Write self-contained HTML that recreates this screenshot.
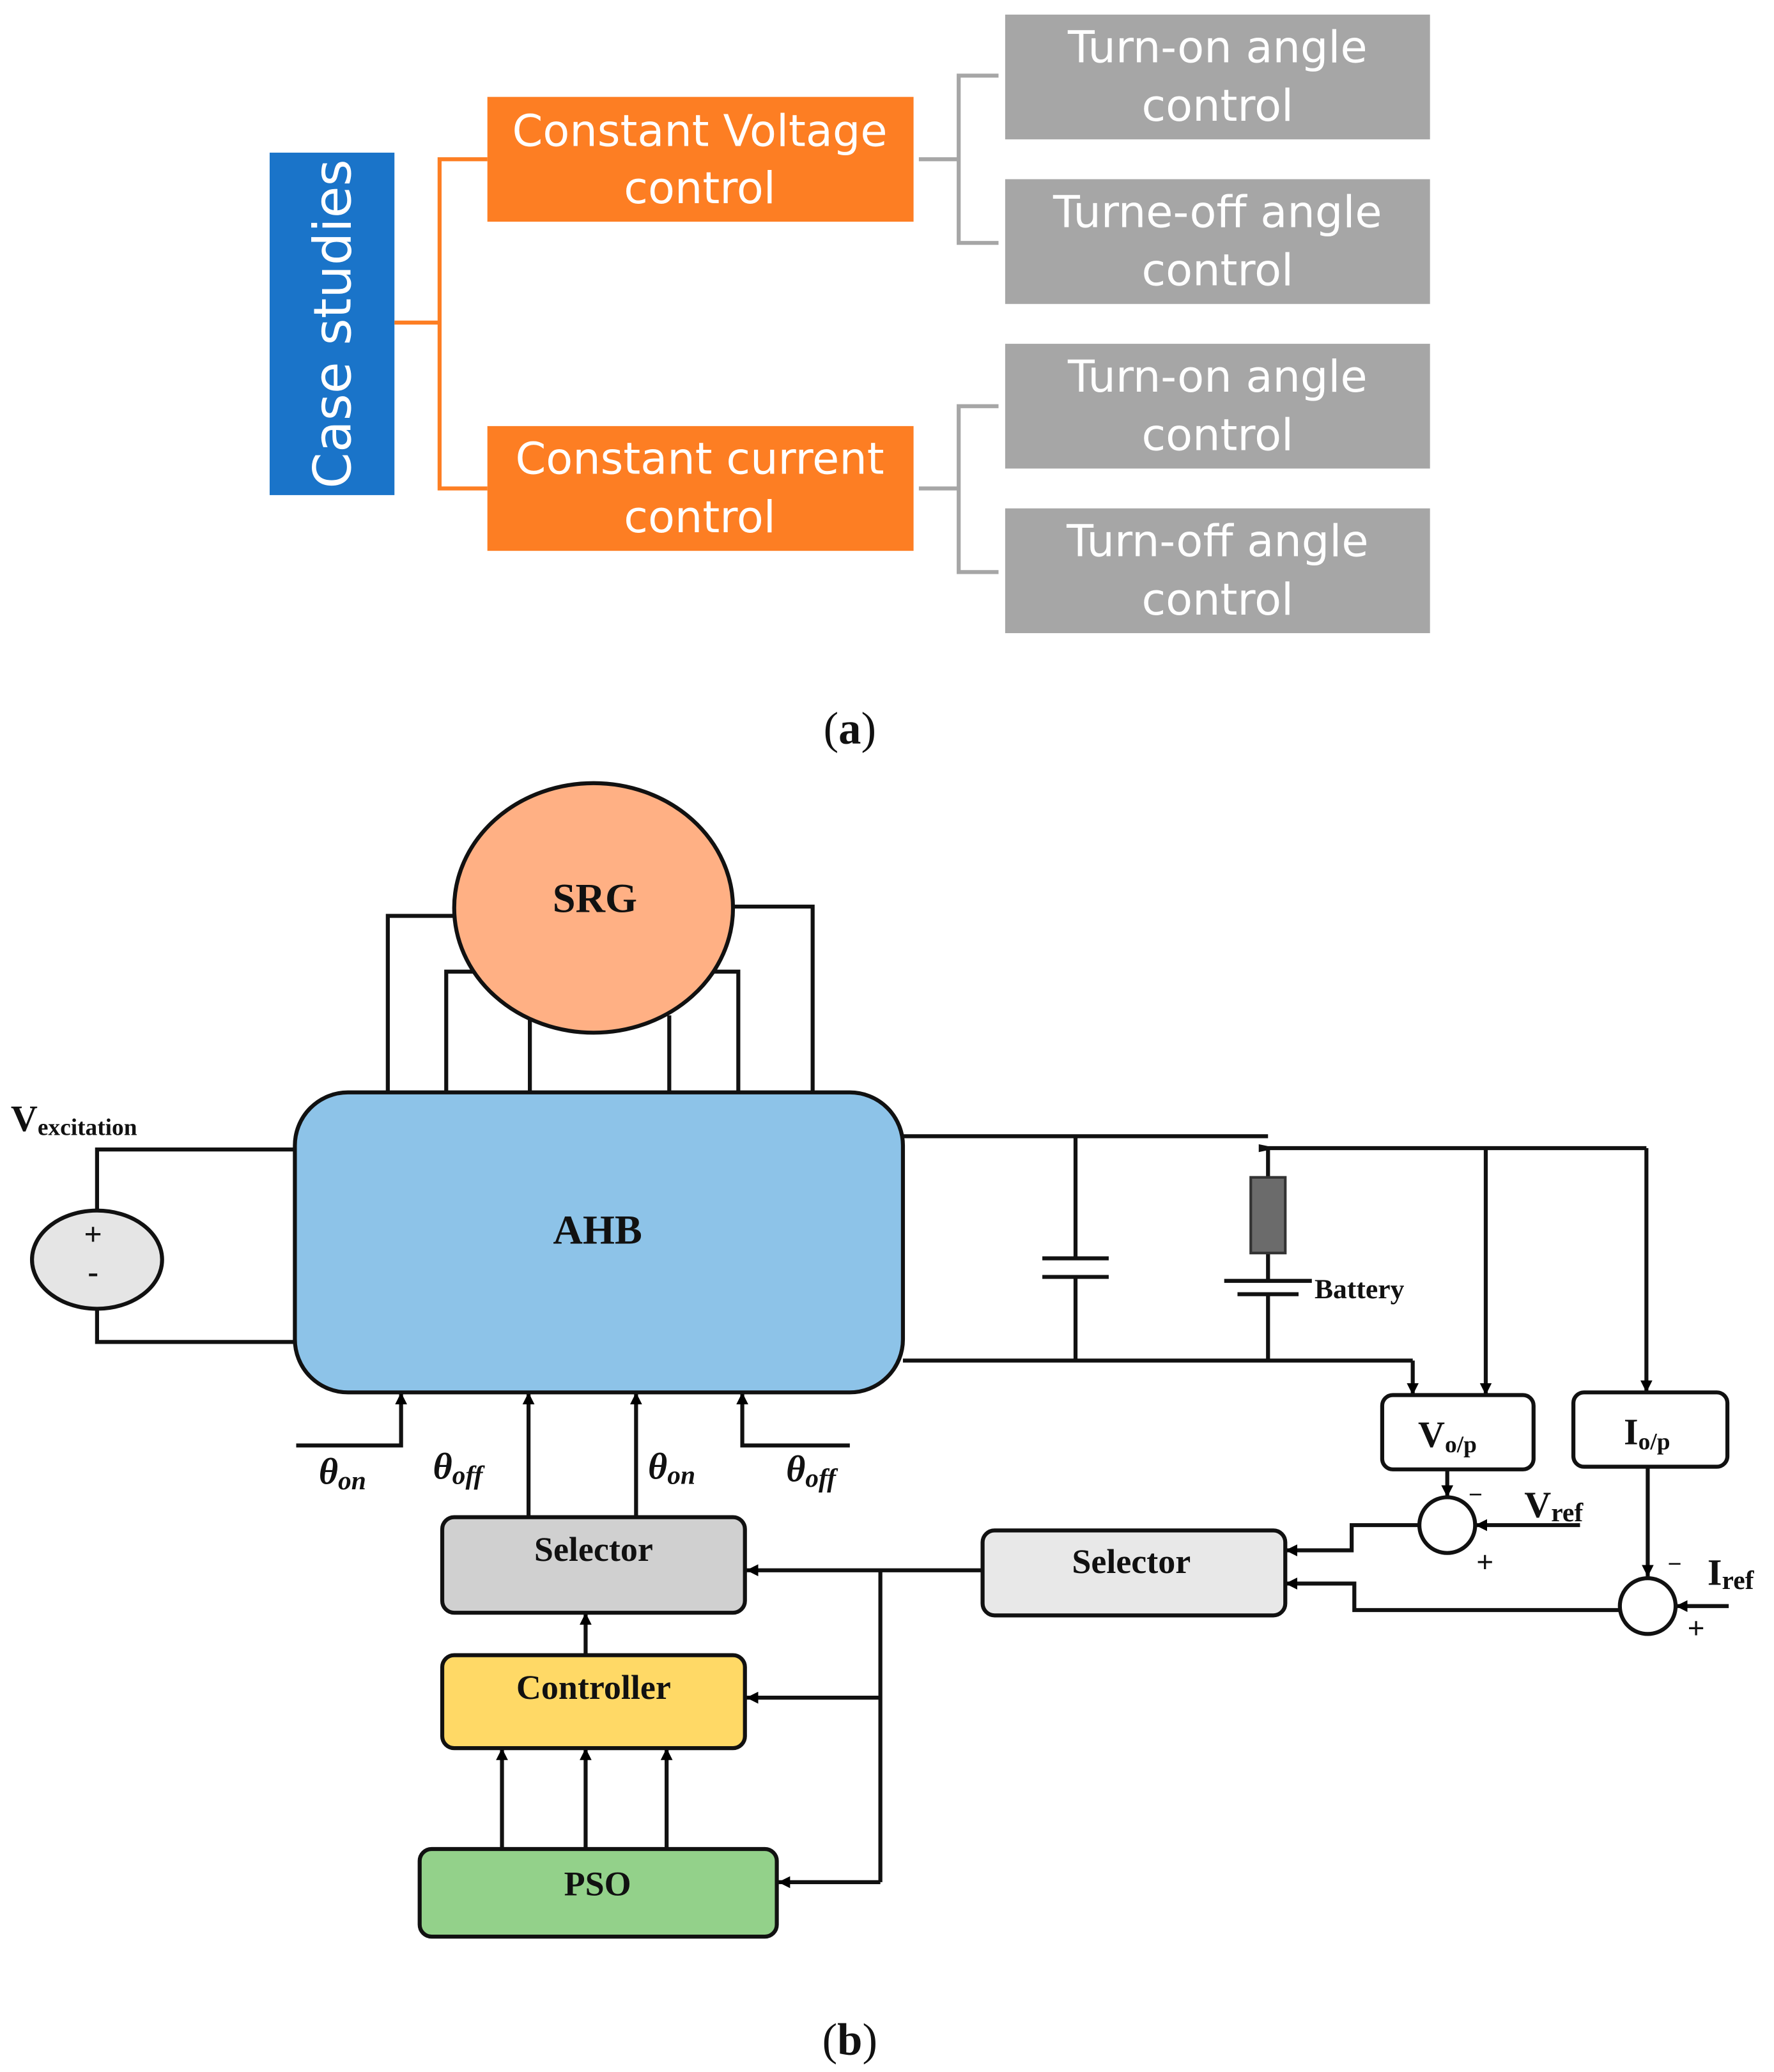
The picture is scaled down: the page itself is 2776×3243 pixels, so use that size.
<!DOCTYPE html>
<html><head><meta charset="utf-8"><style>
html,body{margin:0;padding:0;background:#fff;}
svg{display:block;}
.w{font-family:"DejaVu Sans","Liberation Sans",sans-serif;fill:#fff;font-size:33px;text-anchor:middle;}
.s{font-family:"Liberation Serif",serif;font-weight:bold;fill:#111;}
</style></head><body>
<svg width="2776" height="3243" viewBox="0 0 1336 1561" xmlns="http://www.w3.org/2000/svg">
<rect width="1336" height="1561" fill="#fff"/>
<!-- (a) -->
<rect x="203" y="115" width="94" height="258" fill="#1a74c9"/>
<text class="w" transform="translate(264,244) rotate(-90)" style="font-size:39px">Case studies</text>
<g stroke="#fd7e23" stroke-width="3" fill="none">
<path d="M297 243H331M367 120H331V368H367"/>
</g>
<rect x="367" y="73" width="321" height="94" fill="#fd7e23"/>
<rect x="367" y="321" width="321" height="94" fill="#fd7e23"/>
<text class="w" x="527" y="110">Constant Voltage</text><text class="w" x="527" y="153">control</text>
<text class="w" x="527" y="357">Constant current</text><text class="w" x="527" y="401">control</text>
<g stroke="#a6a6a6" stroke-width="3" fill="none">
<path d="M692 120H722M752 57H722V183H752"/>
<path d="M692 368H722M752 306H722V431H752"/>
</g>
<g fill="#a6a6a6">
<rect x="757" y="11" width="320" height="94"/><rect x="757" y="135" width="320" height="94"/>
<rect x="757" y="259" width="320" height="94"/><rect x="757" y="383" width="320" height="94"/>
</g>
<text class="w" x="917" y="47">Turn-on angle</text><text class="w" x="917" y="91">control</text>
<text class="w" x="917" y="171">Turne-off angle</text><text class="w" x="917" y="215">control</text>
<text class="w" x="917" y="295">Turn-on angle</text><text class="w" x="917" y="339">control</text>
<text class="w" x="917" y="419">Turn-off angle</text><text class="w" x="917" y="463">control</text>
<text x="640" y="560" text-anchor="middle" font-family="Liberation Serif,serif" font-size="34" fill="#111">(<tspan font-weight="bold">a</tspan>)</text>
<!-- (b) -->
<defs><marker id="a" viewBox="0 0 10 10" refX="10" refY="5" markerWidth="9" markerHeight="9" markerUnits="userSpaceOnUse" orient="auto"><path d="M0 0L10 5L0 10z" fill="#000"/></marker></defs>
<g stroke="#111" stroke-width="3" fill="none">
<path d="M292 823V690H345M336 823V732H362M399 823V765M504 823V765M556 823V732H531M612 823V683H552"/>
<path d="M73 912V866H222M73 986V1011H222"/>
<path d="M680 856H955M955 865H1240M810 856V948M785 948H835M785 962H835M810 962V1025M955 865V887M955 944V965M922 965H988M932 975H978M955 975V1025M680 1025H1064"/>
<path d="M1064 1025V1051" marker-end="url(#a)"/>
<path d="M1119 865V1051" marker-end="url(#a)"/>
<path d="M1240 865V1049" marker-end="url(#a)"/>
<path d="M1090 1107V1128" marker-end="url(#a)"/>
<path d="M1190 1149H1111" marker-end="url(#a)"/>
<path d="M1069 1149H1018V1168H968" marker-end="url(#a)"/>
<path d="M1241 1105V1188" marker-end="url(#a)"/>
<path d="M1302 1210H1262" marker-end="url(#a)"/>
<path d="M1220 1213H1020V1193H968" marker-end="url(#a)"/>
<path d="M740 1183H562" marker-end="url(#a)"/>
<path d="M663 1183V1418"/>
<path d="M663 1279H562" marker-end="url(#a)"/>
<path d="M663 1418H586" marker-end="url(#a)"/>
<path d="M441 1247V1215" marker-end="url(#a)"/>
<path d="M378 1393V1317" marker-end="url(#a)"/>
<path d="M441 1393V1317" marker-end="url(#a)"/>
<path d="M502 1393V1317" marker-end="url(#a)"/>
<path d="M398 1143V1049" marker-end="url(#a)"/>
<path d="M479 1143V1049" marker-end="url(#a)"/>
<path d="M223 1089H302V1049" marker-end="url(#a)"/>
<path d="M640 1089H559V1049" marker-end="url(#a)"/>
</g>
<ellipse cx="447" cy="684" rx="105" ry="94" fill="#ffb084" stroke="#111" stroke-width="3"/>
<rect x="222" y="823" width="458" height="226" rx="40" fill="#8dc3e8" stroke="#111" stroke-width="3"/>
<ellipse cx="73" cy="949" rx="49" ry="37" fill="#e5e5e5" stroke="#111" stroke-width="3"/>
<rect x="942" y="887" width="26" height="57" fill="#6b6b6b" stroke="#333" stroke-width="2"/>
<path d="M948 862L962 865L948 868z" fill="#111"/>
<g stroke="#111" stroke-width="3">
<rect x="1041" y="1051" width="114" height="56" rx="8" fill="#fff"/>
<rect x="1185" y="1049" width="116" height="56" rx="8" fill="#fff"/>
<circle cx="1090" cy="1149" r="21" fill="#fff"/>
<circle cx="1241" cy="1210" r="21" fill="#fff"/>
<rect x="740" y="1153" width="228" height="64" rx="9" fill="#e8e8e8"/>
<rect x="333" y="1143" width="228" height="72" rx="9" fill="#d0d0d0"/>
<rect x="333" y="1247" width="228" height="70" rx="9" fill="#ffd966"/>
<rect x="316" y="1393" width="269" height="66" rx="9" fill="#93d18a"/>
</g>
<text class="s" x="448" y="687" font-size="31" text-anchor="middle">SRG</text>
<text class="s" x="450" y="937" font-size="31" text-anchor="middle">AHB</text>
<text class="s" x="70" y="938" font-size="24" text-anchor="middle">+</text>
<text class="s" x="70" y="966" font-size="24" text-anchor="middle">-</text>
<text class="s" x="8" y="852" font-size="28">V<tspan font-size="18" dy="3">excitation</tspan></text>
<text class="s" x="990" y="978" font-size="21">Battery</text>
<text class="s" x="1068" y="1090" font-size="28">V<tspan font-size="18" dy="4">o/p</tspan></text>
<text class="s" x="1223" y="1088" font-size="28">I<tspan font-size="18" dy="4">o/p</tspan></text>
<text class="s" x="1148" y="1143" font-size="28">V<tspan font-size="20" dy="3">ref</tspan></text>
<text class="s" x="1286" y="1194" font-size="28">I<tspan font-size="20" dy="3">ref</tspan></text>
<text x="1106" y="1132" font-size="18" fill="#111" font-family="Liberation Sans,sans-serif">−</text>
<text x="1112" y="1184" font-size="22" fill="#111" font-family="Liberation Sans,sans-serif">+</text>
<text x="1256" y="1184" font-size="18" fill="#111" font-family="Liberation Sans,sans-serif">−</text>
<text x="1271" y="1234" font-size="22" fill="#111" font-family="Liberation Sans,sans-serif">+</text>
<text class="s" x="852" y="1185" font-size="26" text-anchor="middle">Selector</text>
<text class="s" x="447" y="1176" font-size="26" text-anchor="middle">Selector</text>
<text class="s" x="447" y="1280" font-size="26" text-anchor="middle">Controller</text>
<text class="s" x="450" y="1428" font-size="26" text-anchor="middle">PSO</text>
<g class="s" font-style="italic" font-size="28">
<text x="240" y="1118">θ<tspan font-size="20" dy="4">on</tspan></text>
<text x="326" y="1114">θ<tspan font-size="20" dy="4">off</tspan></text>
<text x="488" y="1114">θ<tspan font-size="20" dy="4">on</tspan></text>
<text x="592" y="1116">θ<tspan font-size="20" dy="4">off</tspan></text>
</g>
<text x="640" y="1548" text-anchor="middle" font-family="Liberation Serif,serif" font-size="34" fill="#111">(<tspan font-weight="bold">b</tspan>)</text>
</svg>
</body></html>
